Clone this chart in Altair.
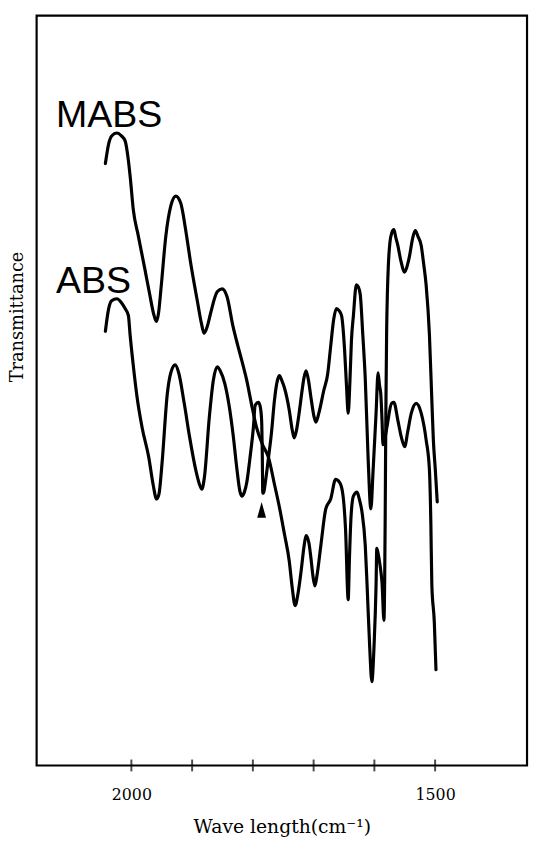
import altair as alt
import pandas as pd

# Wavenumbers (cm-1) and transmittance (arbitrary units)
mabs_w = [2042.8, 2037.4, 2032.5, 2023.9, 2016.3, 2010.3, 2004.9, 2001.7, 1996.8, 1988.7,
          1977.8, 1969.7, 1963.5, 1958.9, 1955.4, 1951.3, 1943.2, 1935.1, 1926.9, 1918.8,
          1910.7, 1902.6, 1891.2, 1884.7, 1880.3, 1875.0, 1870.1, 1858.7, 1850.6, 1842.5,
          1832.7, 1824.6, 1818.1, 1810.0, 1801.9, 1793.7, 1784.0, 1774.2, 1764.5, 1756.4,
          1748.2, 1740.1, 1735.2, 1730.4, 1725.5, 1720.6, 1715.8, 1712.5, 1707.6, 1704.4,
          1701.1, 1697.9, 1694.6, 1688.1, 1680.0, 1671.9, 1663.8, 1657.3, 1652.4, 1647.5,
          1643.1, 1641.0, 1638.6, 1634.5, 1628.5, 1624.8, 1620.4, 1615.0, 1611.8, 1607.7,
          1604.2, 1600.4, 1597.2, 1596.0, 1593.9, 1590.7, 1587.4, 1584.2, 1583.0, 1582.2,
          1581.6, 1580.9, 1579.8, 1578.5, 1576.9, 1574.4, 1571.2, 1567.9, 1564.7, 1561.4,
          1556.6, 1550.1, 1545.2, 1541.9, 1537.1, 1532.7, 1528.1, 1522.9, 1519.2, 1514.8,
          1509.4, 1505.4, 1502.9, 1499.7, 1496.5]
mabs_t = [610, 630, 638, 641, 638, 633, 613, 595, 563, 537,
          503, 477, 458, 450, 458, 483, 537, 567, 577, 570,
          543, 510, 470, 448, 438, 445, 457, 480, 483, 475,
          445, 425, 410, 390, 365, 342, 325, 312, 285, 262,
          235, 207, 180, 162, 175, 197, 222, 233, 225, 210,
          192, 182, 192, 223, 260, 270, 290, 287, 277, 240,
          168, 210, 250, 273, 277, 270, 257, 223, 180, 120,
          85, 123, 183, 220, 215, 203, 185, 147, 190, 250,
          310, 370, 440, 480, 508, 530, 540, 543, 535, 527,
          512, 500, 508, 517, 534, 542, 536, 527, 510, 487,
          437, 370, 330, 300, 267]

abs_w = [2042.8, 2037.4, 2032.5, 2023.9, 2016.3, 2010.3, 2004.9, 2002.2, 1996.8, 1990.8,
         1982.2, 1971.3, 1964.3, 1958.5, 1954.6, 1949.7, 1940.8, 1935.1, 1927.9, 1922.1,
         1913.0, 1904.2, 1893.5, 1888.0, 1883.9, 1879.8, 1871.7, 1865.2, 1858.7, 1853.8,
         1846.2, 1839.2, 1832.7, 1826.2, 1821.4, 1818.1, 1814.0, 1810.0, 1805.1, 1799.1,
         1796.2, 1791.0, 1788.0, 1785.6, 1784.5, 1783.7, 1782.4, 1779.9, 1774.7, 1769.4,
         1764.5, 1760.4, 1756.4, 1752.3, 1748.2, 1740.1, 1735.2, 1732.0, 1728.8, 1723.9,
         1719.0, 1715.8, 1712.5, 1708.4, 1704.4, 1699.5, 1696.3, 1691.4, 1683.3, 1676.8,
         1671.9, 1667.0, 1662.5, 1658.1, 1654.0, 1649.1, 1645.9, 1643.1, 1640.2, 1637.8,
         1634.5, 1629.7, 1626.4, 1623.2, 1619.1, 1615.0, 1610.2, 1605.8, 1602.0, 1597.2,
         1593.9, 1591.5, 1589.5, 1587.4, 1585.8, 1582.5, 1579.3, 1571.7, 1567.9, 1561.4,
         1555.7, 1550.1, 1545.2, 1539.2, 1531.1, 1522.9, 1514.8, 1509.4, 1507.0, 1505.4,
         1501.3, 1498.6]
abs_t = [440, 463, 471, 473, 469, 463, 456, 437, 405, 374,
         342, 312, 285, 270, 275, 305, 377, 398, 406, 398,
         367, 333, 298, 285, 280, 292, 353, 390, 404, 400,
         387, 365, 336, 300, 278, 273, 277, 287, 310, 343,
         365, 368, 364, 350, 315, 276, 276, 285, 310, 337,
         370, 388, 395, 390, 383, 360, 340, 332, 338, 357,
         380, 393, 400, 390, 373, 354, 348, 357, 380, 397,
         425, 452, 463, 461, 456, 422, 385, 357, 390, 430,
         456, 487, 485, 477, 437, 392, 310, 260, 300, 357,
         398, 385, 377, 350, 325, 332, 343, 367, 368, 350,
         333, 323, 338, 357, 367, 357, 330, 300, 245, 183,
         145, 97]

tick_values = [2000, 1900, 1800, 1700, 1600, 1500]
label_values = [2000, 1500]

series_names = ["MABS", "ABS"]
series_label_w = [2124, 2124]
series_label_t = [647, 479]

arrow_w = [1785.6]
arrow_t = [259]

W, H = 497, 760

rows = []
for name, ws, ts in (("MABS", mabs_w, mabs_t), ("ABS", abs_w, abs_t)):
    for i, (w, t) in enumerate(zip(ws, ts)):
        rows.append({"series": name, "i": i, "w": w, "t": t})
spec_df = pd.DataFrame(rows)
tick_df = pd.DataFrame({"w": tick_values})
label_df = pd.DataFrame({"w": series_label_w, "t": series_label_t, "label": series_names})
arrow_df = pd.DataFrame({"w": arrow_w, "t": arrow_t})

xs = alt.Scale(domain=[1348.7, 2156], reverse=True, nice=False, zero=False)
ys = alt.Scale(domain=[0, 760], nice=False, zero=False)

xaxis = alt.Axis(values=label_values, format="d", title="Wave length(cm⁻¹)",
                 grid=False, domain=False, ticks=False, tickSize=0, labelPadding=22,
                 labelFont="DejaVu Serif", labelFontSize=16, labelColor="black",
                 titleFont="DejaVu Serif", titleFontSize=19, titleFontWeight="normal",
                 titleColor="black", titlePadding=15)
yaxis = alt.Axis(labels=False, ticks=False, domain=False, grid=False,
                 title="Transmittance", titleFont="DejaVu Serif", titleFontSize=18,
                 titleFontWeight="normal", titleColor="black", titleX=-14, titleY=305,
                 titleBaseline="alphabetic", titleAlign="center", titleAngle=270)

lines = alt.Chart(spec_df).mark_line(
    color="black", strokeWidth=3.2, interpolate="monotone",
    strokeCap="round", strokeJoin="round"
).encode(
    x=alt.X("w:Q", scale=xs, axis=xaxis),
    y=alt.Y("t:Q", scale=ys, axis=yaxis),
    detail="series:N",
    order="i:Q",
)

ticks = alt.Chart(tick_df).mark_tick(
    color="black", thickness=2, size=12, orient="vertical"
).encode(
    x=alt.X("w:Q"),
    y=alt.value(H),
)

texts = alt.Chart(label_df).mark_text(
    align="left", baseline="alphabetic", font="Liberation Sans", fontSize=38, color="black"
).encode(
    x="w:Q", y="t:Q", text="label:N"
)

arrow = alt.Chart(arrow_df).mark_point(
    shape="M0,-1L0.56,1L-0.56,1Z", filled=True, size=256, color="black", opacity=1
).encode(
    x="w:Q", y="t:Q"
)

chart = alt.layer(lines, ticks, texts, arrow).properties(
    width=W, height=H,
    padding={"left": 29, "top": 2, "right": 2, "bottom": 78},
    autosize=alt.AutoSizeParams(type="none"),
    background="white",
).configure_view(stroke="black", strokeWidth=2.2)

chart.save("out.html", embed_options={"renderer": "svg", "actions": False})
